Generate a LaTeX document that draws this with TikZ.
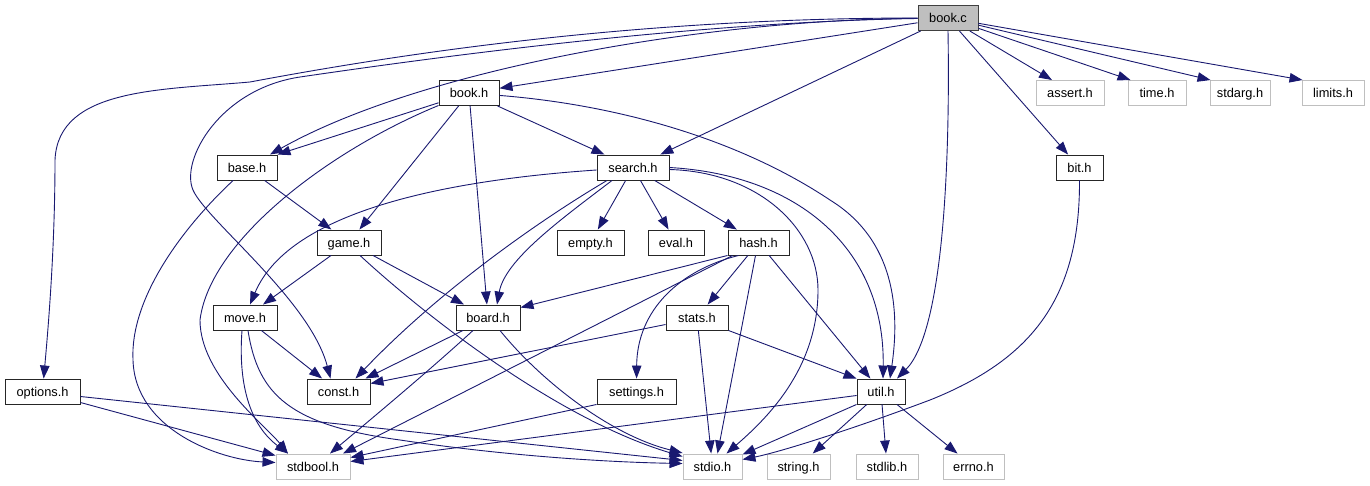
\documentclass[tikz,border=0pt]{standalone}
\usepackage{fontspec}
\setmainfont{Liberation Sans}
\usepackage{xcolor}
\definecolor{incBlue}{HTML}{191970}
\definecolor{incGrey}{HTML}{BFBFBF}
\definecolor{incBorder}{HTML}{404040}
\usepackage{tikz}
\usetikzlibrary{arrows.meta}

\begin{document}
\begin{tikzpicture}[
    x=1pt, y=-1pt,
    incBase/.style={
        rectangle, inner sep=0pt, minimum height=25pt,
        text height=9.5pt, text depth=0pt,
        font=\fontsize{12.8}{14}\selectfont, text=black
    },
    incFile/.style={incBase, draw=black!85, line width=0.95pt, fill=white},
    incSys/.style={incBase, draw=incGrey, line width=0.95pt, fill=white},
    incRoot/.style={incBase, draw=incBorder, line width=0.95pt, fill=incGrey},
    incEdge/.style={
        -{Triangle[length=13pt, width=9.5pt]}, line width=0.9pt, draw=incBlue
    }
]
    \useasboundingbox (0,0) rectangle (1370,485);

    % Root file
    \node[incRoot, minimum width=60pt] (bookC) at (948,18) {book.c};

    % System headers (first row)
    \node[incSys, minimum width=68pt] (assertH) at (1070,93) {assert.h};
    \node[incSys, minimum width=58pt] (timeH) at (1157,93) {time.h};
    \node[incSys, minimum width=60pt] (stdargH) at (1240,93) {stdarg.h};
    \node[incSys, minimum width=62pt] (limitsH) at (1333,93) {limits.h};

    % Project headers
    \node[incFile, minimum width=60pt] (bookH) at (469,93) {book.h};
    \node[incFile, minimum width=60pt] (baseH) at (247,167.5) {base.h};
    \node[incFile, minimum width=72pt] (searchH) at (633,167.5) {search.h};
    \node[incFile, minimum width=47pt] (bitH) at (1079.5,167.5) {bit.h};
    \node[incFile, minimum width=64pt] (gameH) at (349,242.5) {game.h};
    \node[incFile, minimum width=67pt] (emptyH) at (590.5,242.5) {empty.h};
    \node[incFile, minimum width=56pt] (evalH) at (676,242.5) {eval.h};
    \node[incFile, minimum width=61pt] (hashH) at (758.5,242.5) {hash.h};
    \node[incFile, minimum width=64pt] (moveH) at (245,317.5) {move.h};
    \node[incFile, minimum width=64pt] (boardH) at (488,317.5) {board.h};
    \node[incFile, minimum width=62pt] (statsH) at (697,317.5) {stats.h};
    \node[incFile, minimum width=75pt] (optionsH) at (42.5,391.5) {options.h};
    \node[incFile, minimum width=63pt] (constH) at (338.5,391.5) {const.h};
    \node[incFile, minimum width=79pt] (settingsH) at (636.5,391.5) {settings.h};
    \node[incFile, minimum width=48pt] (utilH) at (881,391.5) {util.h};

    % System headers (bottom row)
    \node[incSys, minimum width=74pt] (stdboolH) at (313,466.5) {stdbool.h};
    \node[incSys, minimum width=59pt] (stdioH) at (712.5,466.5) {stdio.h};
    \node[incSys, minimum width=63pt] (stringH) at (798.5,466.5) {string.h};
    \node[incSys, minimum width=62pt] (stdlibH) at (887,466.5) {stdlib.h};
    \node[incSys, minimum width=61pt] (errnoH) at (973.5,466.5) {errno.h};

    % book.c includes
    \draw[incEdge] (bookC) -- (bookH);
    \draw[incEdge] (bookC) .. controls (700,20) and (420,70) .. ([xshift=23pt]baseH.north);
    \draw[incEdge] (bookC) .. controls (650,18) and (420,50) .. (250,82)
        .. controls (160,90) and (58,88) .. (55,160)
        .. controls (55,250) and (48,330) .. (optionsH);
    \draw[incEdge] (bookC) .. controls (700,22) and (450,55) .. (300,77)
        .. controls (220,89) and (180,160) .. (193,190)
        .. controls (206,220) and (310,300) .. ([xshift=-8pt]constH.north);
    \draw[incEdge] (bookC) -- (searchH);
    \draw[incEdge] (bookC.south) .. controls (950,150) and (945,330) .. ([xshift=16pt]utilH.north);
    \draw[incEdge] (bookC) -- (bitH);
    \draw[incEdge] (bookC) -- ([xshift=-18pt]assertH.north);
    \draw[incEdge] (bookC) -- ([xshift=3pt]timeH.north west);
    \draw[incEdge] (bookC) -- ([xshift=1pt]stdargH.north west);
    \draw[incEdge] (bookC) -- ([xshift=1pt]limitsH.north west);

    % book.h includes
    \draw[incEdge] (bookH) -- (baseH.north east);
    \draw[incEdge] (bookH) .. controls (330,150) and (210,240) .. (200,320)
        .. controls (200,375) and (265,425) .. ([xshift=-25pt]stdboolH.north);
    \draw[incEdge] (bookH) -- (gameH);
    \draw[incEdge] (bookH) -- (boardH);
    \draw[incEdge] (bookH) -- (searchH);
    \draw[incEdge] (bookH) .. controls (620,105) and (740,140) .. (830,200)
        .. controls (895,240) and (900,310) .. ([xshift=9pt]utilH.north);

    % base.h includes
    \draw[incEdge] (baseH) -- (gameH);
    \draw[incEdge] (baseH) .. controls (180,230) and (130,300) .. (133,360)
        .. controls (135,430) and (220,460) .. ([yshift=4pt]stdboolH.west);

    % search.h includes
    \draw[incEdge] (searchH) .. controls (450,180) and (290,210) .. ([xshift=5pt]moveH.north);
    \draw[incEdge] ([xshift=-26pt]searchH.south) .. controls (540,220) and (440,290) .. ([xshift=17pt]constH.north);
    \draw[incEdge] ([xshift=-21pt]searchH.south) .. controls (560,220) and (505,260) .. ([xshift=9pt]boardH.north);
    \draw[incEdge] (searchH) -- (emptyH);
    \draw[incEdge] (searchH) -- (evalH);
    \draw[incEdge] (searchH) -- (hashH);
    \draw[incEdge] ([yshift=-2pt]searchH.east) .. controls (760,172) and (818,230) .. (818,290)
        .. controls (818,370) and (765,420) .. ([xshift=14pt]stdioH.north);
    \draw[incEdge] (searchH.east) .. controls (800,175) and (885,250) .. ([xshift=2pt]utilH.north);

    % game.h includes
    \draw[incEdge] (gameH) -- (moveH);
    \draw[incEdge] (gameH) -- (boardH);
    \draw[incEdge] ([xshift=11pt]gameH.south) .. controls (430,320) and (560,420) .. ([yshift=10pt]stdioH.west);

    % hash.h includes
    \draw[incEdge] (hashH.south west) -- ([yshift=-3pt]boardH.north east);
    \draw[incEdge] ([xshift=-26pt]hashH.south) -- ([xshift=30pt]stdboolH.north);
    \draw[incEdge] ([xshift=-20pt]hashH.south) .. controls (680,270) and (637,310) .. (settingsH);
    \draw[incEdge] (hashH) -- (statsH);
    \draw[incEdge] ([xshift=-3pt]hashH.south) -- ([xshift=5pt]stdioH.north);
    \draw[incEdge] (hashH) -- (utilH);

    % move.h includes
    \draw[incEdge] (moveH) -- (constH);
    \draw[incEdge] ([xshift=-3pt]moveH.south) .. controls (238,385) and (250,425) .. ([xshift=-25pt]stdboolH.north);
    \draw[incEdge] ([xshift=3pt]moveH.south) .. controls (258,395) and (290,425) .. (400,440)
        .. controls (500,455) and (600,462) .. ([yshift=3pt]stdioH.west);

    % board.h includes
    \draw[incEdge] ([xshift=-25pt]boardH.south) -- ([xshift=27pt]constH.north);
    \draw[incEdge] ([xshift=-15pt]boardH.south) .. controls (430,370) and (370,420) .. ([xshift=17pt]stdboolH.north);
    \draw[incEdge] ([xshift=12pt]boardH.south) .. controls (540,380) and (610,435) .. ([yshift=13.5pt]stdioH.west);

    % stats.h includes
    \draw[incEdge] ([yshift=-7pt]statsH.west) -- ([yshift=8pt]constH.east);
    \draw[incEdge] (statsH) -- (stdioH);
    \draw[incEdge] (statsH.south east) -- (utilH.north west);

    % options.h, settings.h includes
    \draw[incEdge] ([yshift=-11pt]optionsH.east) -- ([yshift=11pt]stdboolH.west);
    \draw[incEdge] ([yshift=-5pt]optionsH.east) -- ([yshift=6pt]stdioH.west);
    \draw[incEdge] (settingsH.south west) -- ([yshift=9pt]stdboolH.east);

    % util.h includes
    \draw[incEdge] ([yshift=-4pt]utilH.west) -- ([yshift=5pt]stdboolH.east);
    \draw[incEdge] (utilH.south west) -- ([yshift=12pt]stdioH.east);
    \draw[incEdge] (utilH) -- (stringH);
    \draw[incEdge] (utilH) -- (stdlibH);
    \draw[incEdge] (utilH) -- (errnoH);

    % bit.h includes
    \draw[incEdge] (bitH.south) .. controls (1080,300) and (1030,360) .. (930,400)
        .. controls (850,430) and (780,452) .. ([yshift=7pt]stdioH.east);

\end{tikzpicture}
\end{document}
